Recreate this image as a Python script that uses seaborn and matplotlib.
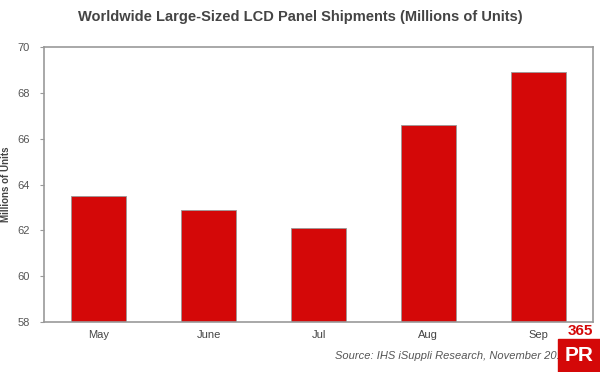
import matplotlib
matplotlib.use("Agg")
import matplotlib.pyplot as plt
import seaborn as sns
import pandas as pd

months = ["May", "June", "Jul", "Aug", "Sep"]
shipments = [63.5, 62.9, 62.1, 66.6, 68.9]
y_ticks = [58, 60, 62, 64, 66, 68, 70]

title = "Worldwide Large-Sized LCD Panel Shipments (Millions of Units)"
source = "Source: IHS iSuppli Research, November 2012"

sns.set_style("white")
plt.rcParams['font.family'] = ['Liberation Sans', 'DejaVu Sans']

df = pd.DataFrame({"month": months, "value": shipments})

fig = plt.figure(figsize=(6, 3.72), dpi=100)
ax = fig.add_axes([0.0733, 0.134, 0.915, 0.74])

sns.barplot(data=df, x="month", y="value", color="#D40808", saturation=1,
            width=0.5, edgecolor="#999999", linewidth=0.6, ax=ax)

ax.set_ylim(58, 70)
ax.set_xlim(-0.5, 4.5)
ax.set_yticks(y_ticks)
ax.set_yticklabels([str(t) for t in y_ticks], fontsize=8, color="#555555")
ax.tick_params(axis="x", labelsize=8, labelcolor="#444444", length=0, pad=6)
ax.tick_params(axis="y", left=True, length=3, width=0.8, color="#999999", pad=7)
ax.set_xlabel("")
ax.set_ylabel("Millions of Units", fontsize=7, fontweight="bold", color="#444444")
ax.yaxis.set_label_coords(-0.06, 0.5)
for s in ax.spines.values():
    s.set_color("#999999")
    s.set_linewidth(1.2)

fig.text(0.5, 0.955, title, ha="center", va="center", fontsize=10.5,
         fontweight="bold", color="#444444")
fig.text(0.948, 0.044, source, ha="right", va="center", fontsize=8,
         style="italic", color="#555555")

# watermark logo
fig.patches.append(plt.Rectangle((0.93, 0.0), 0.07, 0.09, transform=fig.transFigure,
                                 color="#D40808", zorder=5))
fig.text(0.965, 0.045, "PR", ha="center", va="center", fontsize=15, fontweight="bold",
         color="white", zorder=6)
fig.text(0.967, 0.11, "365", ha="center", va="center", fontsize=11, fontweight="bold",
         color="#D40808", zorder=6)

fig.savefig("out.png", dpi=100)
